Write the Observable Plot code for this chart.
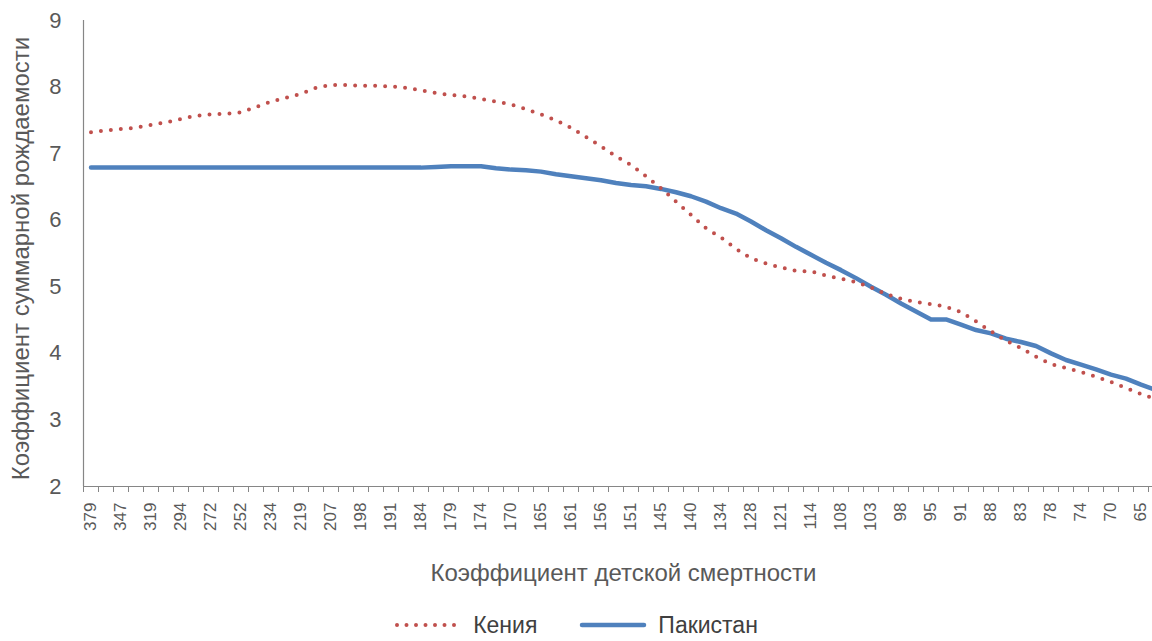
<!DOCTYPE html>
<html>
<head>
<meta charset="utf-8">
<script src="https://cdn.jsdelivr.net/npm/d3@7"></script>
<script src="https://cdn.jsdelivr.net/npm/@observablehq/plot@0.6"></script>
<style>
  html, body { margin: 0; padding: 0; background: #fff; overflow: hidden; width: 1152px; }
  body { font-family: "Liberation Sans", "Open Sans", sans-serif; color: #595959; }
  #legend { display: flex; justify-content: center; align-items: center; height: 28px; margin-top: 11px; font-size: 23px; color: #404040; line-height: 28px; }
  #legend .item { display: flex; align-items: center; margin: 0 21px; }
  #legend svg { margin-right: 11px; }
</style>
</head>
<body>
<div id="chart"></div>
<div id="legend"></div>
<script>
// Category labels (child mortality); odd entries are unlabeled in the source
const categories = [379,363,347,333,319,306,294,283,272,262,252,243,234,226,219,213,207,202,198,194,
  191,187,184,181,179,176,174,172,170,167,165,163,161,158,156,153,151,148,145,143,
  140,137,134,131,128,124,121,117,114,111,108,105,103,100,98,96,95,93,91,89,
  88,85,83,80,78,76,74,72,70,67,65,63];

const kenya = [7.32,7.35,7.37,7.39,7.43,7.47,7.52,7.57,7.59,7.60,
  7.62,7.70,7.78,7.84,7.90,7.99,8.03,8.03,8.02,8.02,
  8.01,7.99,7.95,7.91,7.88,7.86,7.82,7.78,7.74,7.67,
  7.59,7.50,7.39,7.25,7.11,6.96,6.83,6.66,6.48,6.28,
  6.08,5.88,5.74,5.57,5.43,5.35,5.29,5.24,5.23,5.17,
  5.12,5.07,4.99,4.89,4.82,4.77,4.74,4.70,4.62,4.48,
  4.33,4.19,4.08,3.95,3.84,3.78,3.72,3.65,3.57,3.48,
  3.39,3.31];

const pakistan = [6.79,6.79,6.79,6.79,6.79,6.79,6.79,6.79,6.79,6.79,
  6.79,6.79,6.79,6.79,6.79,6.79,6.79,6.79,6.79,6.79,
  6.79,6.79,6.79,6.80,6.81,6.81,6.81,6.78,6.76,6.75,
  6.73,6.69,6.66,6.63,6.60,6.56,6.53,6.51,6.47,6.42,
  6.36,6.28,6.18,6.10,5.98,5.85,5.73,5.60,5.48,5.36,
  5.25,5.13,5.00,4.88,4.75,4.63,4.51,4.51,4.43,4.35,
  4.30,4.22,4.17,4.11,4.00,3.90,3.83,3.76,3.68,3.62,
  3.53,3.45];

const yTicks = [2,3,4,5,6,7,8,9];
const seriesNames = ["Кения", "Пакистан"];
const colors = ["#C0504D", "#4F81BD"];
const xTitle = "Коэффициент детской смертности";
const yTitle = "Коэффициент суммарной рождаемости";

const rows = categories.map((c, i) => ({i, c, kenya: kenya[i], pakistan: pakistan[i]}));
const labelIdx = categories.map((c, i) => i).filter(i => i % 2 === 0 && i < 71);
const boundaries = d3.range(0, categories.length + 1).map(i => i - 0.5);

const axisColor = "#868686";
const chart = Plot.plot({
  width: 1152,
  height: 600,
  marginLeft: 83,
  marginTop: 20,
  marginBottom: 114,
  marginRight: -11,
  style: {fontFamily: "'Liberation Sans', 'Open Sans', sans-serif", background: "white", color: "#595959", overflow: "hidden"},
  x: {type: "linear", domain: [-0.5, categories.length - 0.5], axis: null},
  y: {domain: [2, 9], axis: null},
  marks: [
    Plot.ruleX([-0.5], {y1: 2, y2: 9, stroke: axisColor, strokeWidth: 1.2}),
    Plot.ruleY([2], {stroke: axisColor, strokeWidth: 1.2}),
    Plot.ruleX(boundaries, {x: d => d, y1: 2, y2: 2 - 6 / 66.6, stroke: axisColor, strokeWidth: 1}),
    Plot.text(yTicks, {x: -0.5, y: d => d, text: d => String(d), dx: -22, textAnchor: "end", fontSize: 22, fill: "#595959"}),
    Plot.text(labelIdx, {x: d => d, y: 2, text: d => String(categories[d]), rotate: -90, textAnchor: "end", dy: 16, fontSize: 17, fill: "#595959"}),
    Plot.text([xTitle], {frameAnchor: "bottom", textAnchor: "middle", dy: 94, fontSize: 24, fill: "#595959"}),
    Plot.text([yTitle], {frameAnchor: "left", textAnchor: "middle", dx: -62, dy: 5, rotate: -90, fontSize: 24, fill: "#595959"}),
    Plot.line(rows, {x: "i", y: "pakistan", stroke: colors[1], strokeWidth: 4.5, strokeLinejoin: "round", strokeLinecap: "round"}),
    Plot.line(rows, {x: "i", y: "kenya", stroke: colors[0], strokeWidth: 4, strokeDasharray: "0 10", strokeLinecap: "round"})
  ]
});
document.getElementById("chart").appendChild(chart);

// Legend
const legend = document.getElementById("legend");
seriesNames.forEach((name, k) => {
  const item = document.createElement("div");
  item.className = "item";
  const dash = k === 0 ? 'stroke-dasharray="0 9.5" stroke-linecap="round" stroke-width="4"' : 'stroke-width="4.5" stroke-linecap="round"';
  item.innerHTML = `<svg width="68" height="12"><line x1="3" x2="65" y1="6" y2="6" stroke="${colors[k]}" ${dash}/></svg><span>${name}</span>`;
  legend.appendChild(item);
});
</script>
</body>
</html>
